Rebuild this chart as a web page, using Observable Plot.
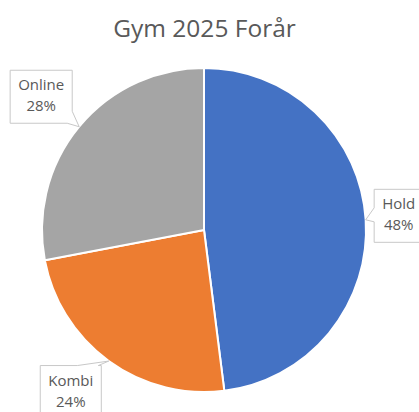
<!DOCTYPE html>
<html><head><meta charset="utf-8">
<script src="https://cdn.jsdelivr.net/npm/d3@7"></script>
<script src="https://cdn.jsdelivr.net/npm/@observablehq/plot@0.6"></script>
<style>body{margin:0;background:#fff;}</style>
</head><body><div id="chart"></div>
<script>
const title = "Gym 2025 Forår";
const categories = ["Hold", "Kombi", "Online"];
const values = [48, 24, 28];
const percentLabels = ["48%", "24%", "28%"];
const colors = ["#4472C4", "#ED7D31", "#A5A5A5"];

// label box styling: center offset from slice edge (px) and tail side
const labelStyle = [
  {dx: 33, dy: -4, side: "left"},
  {dx: -38, dy: 31, side: "top"},
  {dx: -38, dy: -30, side: "corner"}
];

const data = categories.map((c, i) => ({category: c, value: values[i], pct: percentLabels[i], style: labelStyle[i]}));
const arcs = d3.pie().sort(null).value(d => d.value)(data);
const slices = arcs.map(a => {
  const mid = (a.startAngle + a.endAngle) / 2;
  return {...a.data, start: a.startAngle, end: a.endAngle, ax: Math.sin(mid), ay: Math.cos(mid)};
});

const FONT = "15px 'Open Sans'";
const ctx = document.createElement("canvas").getContext("2d");
ctx.font = FONT;

function pieMark(index, scales) {
  const cx = scales.x(0), cy = scales.y(0), r = scales.x(1) - scales.x(0);
  const arc = d3.arc().innerRadius(0).outerRadius(r);
  const g = d3.create("svg:g").attr("transform", `translate(${cx},${cy})`);
  g.selectAll("path").data(slices).join("path")
    .attr("d", s => arc({startAngle: s.start, endAngle: s.end}))
    .attr("fill", s => scales.color(s.category))
    .attr("stroke", "#fff").attr("stroke-width", 2).attr("stroke-linejoin", "round");
  return g.node();
}

function labelMark(index, scales) {
  const g = d3.create("svg:g");
  for (const s of slices) {
    const tx = scales.x(s.ax), ty = scales.y(s.ay);
    const w = Math.max(ctx.measureText(s.category).width, ctx.measureText(s.pct).width) + 16;
    const h = 53;
    const bx = tx + s.style.dx, by = ty + s.style.dy;
    const x0 = bx - w / 2, x1 = bx + w / 2, y0 = by - h / 2, y1 = by + h / 2;
    let pts;
    if (s.style.side === "left") {
      const c = (y0 + y1) / 2;
      pts = [[x0, y0], [x1, y0], [x1, y1], [x0, y1], [x0, c + 6], [tx, ty], [x0, c - 8]];
    } else if (s.style.side === "top") {
      pts = [[x0, y0], [x1 - 24, y0], [tx, ty], [x1 - 3, y0], [x1, y0], [x1, y1], [x0, y1]];
    } else {
      pts = [[x0, y0], [x1, y0], [x1, y1 - 12], [tx, ty], [x1 - 5, y1], [x0, y1]];
    }
    g.append("path").attr("d", "M" + pts.map(p => p.join(",")).join("L") + "Z")
      .attr("fill", "#fff").attr("stroke", "#C8C8C8").attr("stroke-width", 1);
    const t = g.append("text").attr("fill", "#595959").attr("font-family", "'Open Sans'")
      .attr("font-size", 15).attr("text-anchor", "middle");
    t.append("tspan").attr("x", bx).attr("y", y0 + 20).text(s.category);
    t.append("tspan").attr("x", bx).attr("y", y0 + 41).text(s.pct);
  }
  return g.node();
}

const chart = Plot.plot({
  width: 419,
  height: 412,
  margin: 0,
  style: {background: "#fff", overflow: "visible"},
  x: {domain: [-1, 1], range: [42, 366], axis: null},
  y: {domain: [-1, 1], range: [392, 68], axis: null},
  color: {domain: categories, range: colors},
  marks: [
    Plot.dot(slices, {x: "ax", y: "ay", r: 0, fill: "category"}),
    pieMark,
    labelMark,
    Plot.text([title], {x: () => 0, frameAnchor: "top", lineAnchor: "bottom", dy: 36, fontSize: 24.5, fill: "#595959", fontFamily: "'Open Sans'", text: d => d})
  ]
});
document.getElementById("chart").appendChild(chart);
</script>
</body></html>
